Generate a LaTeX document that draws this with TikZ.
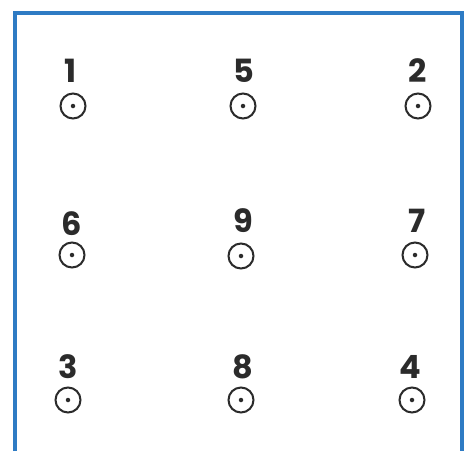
\documentclass[tikz,border=0pt]{standalone}
\usepackage{fontspec}
\setmainfont{Poppins}
\definecolor{frameblue}{HTML}{2E7BC4}
\definecolor{ink}{HTML}{2B2B2B}
\begin{document}
\begin{tikzpicture}[x=1pt,y=-1pt,
  lbl/.style={inner sep=0pt,text=ink,font=\fontsize{32}{32}\selectfont\bfseries},
  hole/.style={circle,draw=ink,line width=2pt,minimum size=25pt,inner sep=0pt},
  pip/.style={circle,fill=ink,minimum size=4.5pt,inner sep=0pt}]
\useasboundingbox (0,0) rectangle (465,451);
\fill[white] (0,0) rectangle (465,451);
\draw[frameblue,line width=3.2pt] (15,451) -- (15,13) -- (462,13) -- (462,451);
% row 1
\node[lbl] (l1) at (71,71) {1};
\node[hole] (c1) at (73,106) {}; \node[pip] (d1) at (c1) {};
\node[lbl] (l5) at (244,71) {5};
\node[hole] (c5) at (243,106) {}; \node[pip] (d5) at (c5) {};
\node[lbl] (l2) at (418,71) {2};
\node[hole] (c2) at (418,106) {}; \node[pip] (d2) at (c2) {};
% row 2
\node[lbl] (l6) at (72,224) {6};
\node[hole] (c6) at (72,255) {}; \node[pip] (d6) at (c6) {};
\node[lbl] (l9) at (243,221) {9};
\node[hole] (c9) at (241,256) {}; \node[pip] (d9) at (c9) {};
\node[lbl] (l7) at (417,221) {7};
\node[hole] (c7) at (415,255) {}; \node[pip] (d7) at (c7) {};
% row 3
\node[lbl] (l3) at (68,367) {3};
\node[hole] (c3) at (68,400) {}; \node[pip] (d3) at (c3) {};
\node[lbl] (l8) at (243,367) {8};
\node[hole] (c8) at (241,400) {}; \node[pip] (d8) at (c8) {};
\node[lbl] (l4) at (410,367) {4};
\node[hole] (c4) at (412,400) {}; \node[pip] (d4) at (c4) {};
\end{tikzpicture}
\end{document}
